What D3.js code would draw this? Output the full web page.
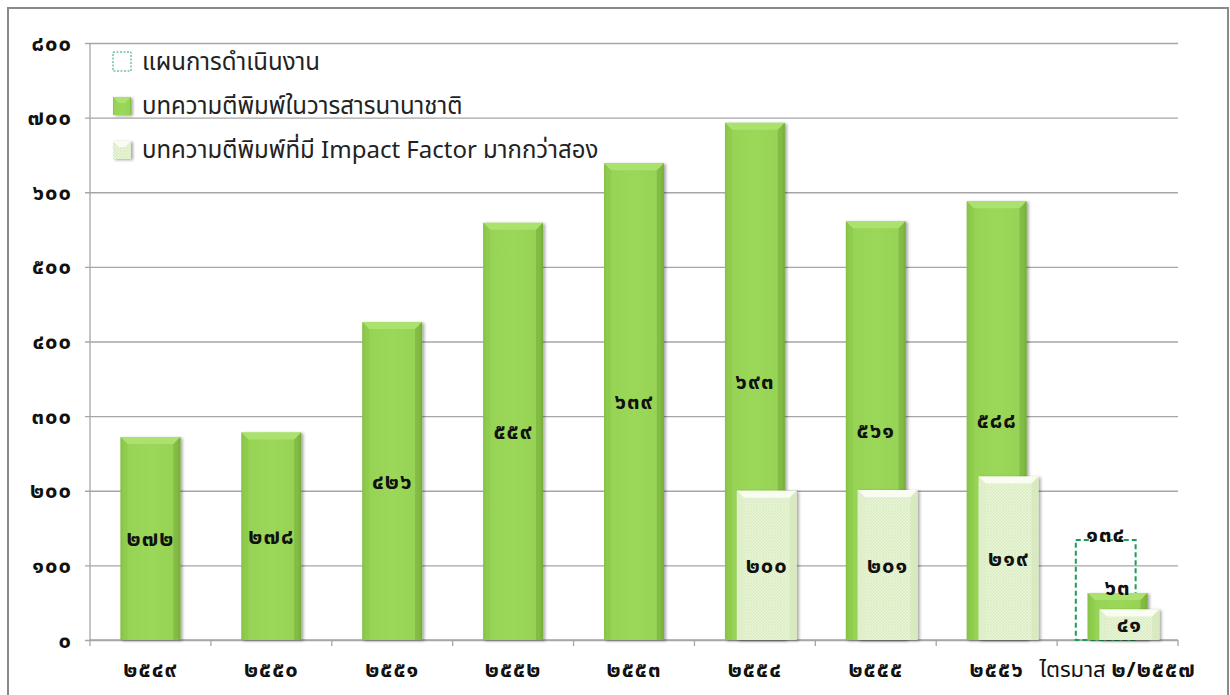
<!DOCTYPE html>
<html lang="th">
<head>
<meta charset="utf-8">
<script src="https://cdn.jsdelivr.net/npm/d3@7"></script>
<style>
  html, body { margin: 0; padding: 0; background: #fff; }
  svg { display: block; }
  .thai { font-family: "Noto Sans Thai", "Tahoma", "Loma", "Garuda", "Noto Sans", sans-serif; }
</style>
</head>
<body>
<svg id="chart" width="1230" height="695"></svg>
<script>
// Categories (Buddhist-era years) and series values
const categories = ["๒๕๔๙", "๒๕๕๐", "๒๕๕๑", "๒๕๕๒", "๒๕๕๓", "๒๕๕๔", "๒๕๕๕", "๒๕๕๖", "ไตรมาส ๒/๒๕๕๗"];
const planValues = [null, null, null, null, null, null, null, null, 134];
const intlJournalValues = [272, 278, 426, 559, 639, 693, 561, 588, 63];
const impactFactorValues = [null, null, null, null, null, 200, 201, 219, 41];
const yTicks = [0, 100, 200, 300, 400, 500, 600, 700, 800];
const seriesNames = ["แผนการดำเนินงาน", "บทความตีพิมพ์ในวารสารนานาชาติ", "บทความตีพิมพ์ที่มี Impact Factor มากกว่าสอง"];

const thaiDigits = "๐๑๒๓๔๕๖๗๘๙";
const toThai = n => String(n).replace(/[0-9]/g, d => thaiDigits[+d]);

const svg = d3.select("#chart");
const plot = { left: 90, right: 1178, top: 43, bottom: 640 };
const numFont = 22;

const x = d3.scaleBand().domain(categories).range([plot.left, plot.right]).padding(0);
const y = d3.scaleLinear().domain([0, 800]).range([plot.bottom, plot.top]);
const bw = x.bandwidth();
const barW = bw * 0.495;
const step = bw * 0.098;

// defs: gradients, dotted texture, shadow
const defs = svg.append("defs");
const gGreen = defs.append("linearGradient").attr("id", "gGreen").attr("x1", 0).attr("x2", 1).attr("y1", 0).attr("y2", 0);
[[0, "#80bb42"], [0.06, "#96d355"], [0.5, "#9bd85a"], [0.94, "#96d355"], [1, "#78b03a"]]
  .forEach(([o, c]) => gGreen.append("stop").attr("offset", o).attr("stop-color", c));
const pat = defs.append("pattern").attr("id", "dots").attr("width", 3).attr("height", 3).attr("patternUnits", "userSpaceOnUse");
pat.append("rect").attr("width", 3).attr("height", 3).attr("fill", "#e9f5d9");
pat.append("circle").attr("cx", 1).attr("cy", 1).attr("r", 0.7).attr("fill", "#c8e2a6");
pat.append("circle").attr("cx", 2.5).attr("cy", 2.5).attr("r", 0.5).attr("fill", "#d5e9bb");
const sh = defs.append("filter").attr("id", "shadow").attr("x", "-10%").attr("y", "-10%").attr("width", "130%").attr("height", "130%");
sh.append("feDropShadow").attr("dx", 2).attr("dy", 1).attr("stdDeviation", 1.4).attr("flood-color", "#000").attr("flood-opacity", 0.35);

// outer frame
svg.append("rect").attr("x", 8).attr("y", 8).attr("width", 1220).attr("height", 700)
  .attr("fill", "#fff").attr("stroke", "#8a8a8a").attr("stroke-width", 2);

// gridlines and y axis
const yAxis = d3.axisLeft(y).tickValues(yTicks).tickSize(-(plot.right - plot.left)).tickFormat(toThai).tickPadding(18);
const yg = svg.append("g").attr("transform", `translate(${plot.left},0)`).call(yAxis);
yg.select(".domain").remove();
yg.selectAll(".tick line").attr("stroke", "#a6a6a6").attr("stroke-width", 1.3).attr("x1", -5);
yg.selectAll(".tick text").attr("class", "thai").attr("font-size", numFont).attr("font-weight", "bold")
  .attr("letter-spacing", 1).attr("fill", "#111");
svg.append("line").attr("x1", plot.left).attr("x2", plot.left).attr("y1", plot.top).attr("y2", plot.bottom)
  .attr("stroke", "#a6a6a6").attr("stroke-width", 1.3);

// x axis with category-boundary ticks
const xg = svg.append("g").attr("transform", `translate(0,${plot.bottom})`);
xg.append("line").attr("x1", plot.left).attr("x2", plot.right).attr("stroke", "#a6a6a6").attr("stroke-width", 1.3);
const bounds = categories.map(c => x(c)).concat([plot.right]);
xg.selectAll("line.bt").data(bounds).join("line").attr("class", "bt")
  .attr("x1", d => d).attr("x2", d => d).attr("y1", 0).attr("y2", 6).attr("stroke", "#a6a6a6").attr("stroke-width", 1.3);
const xt = xg.selectAll("text").data(categories).join("text").attr("class", "thai")
  .attr("x", d => x(d) + bw / 2).attr("y", 29).attr("dy", "0.35em").attr("text-anchor", "middle")
  .attr("fill", "#111").attr("font-size", numFont);
// digits bold, Thai words regular weight
xt.each(function (d) {
  const t = d3.select(this);
  d.split(/([๐-๙/]+)/).filter(p => p.length).forEach(p => {
    const isNum = /^[๐-๙/]+$/.test(p);
    t.append("tspan").attr("font-weight", isNum ? "bold" : "normal")
      .attr("letter-spacing", isNum ? 1 : 0).attr("font-size", isNum ? numFont : 22).text(p);
  });
});

// bar drawing helpers
function bevelBar(g, x0, w, v, kind) {
  const top = y(v), h = plot.bottom - top;
  const grp = g.append("g").attr("filter", "url(#shadow)");
  grp.append("rect").attr("x", x0).attr("y", top).attr("width", w).attr("height", h)
    .attr("fill", kind === "green" ? "url(#gGreen)" : "url(#dots)");
  const b = Math.min(7, h / 2);
  grp.append("path")
    .attr("d", `M${x0},${top} L${x0 + w},${top} L${x0 + w - b},${top + b} L${x0 + b},${top + b} Z`)
    .attr("fill", kind === "green" ? "#abe26e" : "#f8fcf1");
  grp.append("path")
    .attr("d", `M${x0},${top} L${x0 + b},${top + b} L${x0 + b},${top + h} L${x0},${top + h} Z`)
    .attr("fill", kind === "green" ? "#88c648" : "#dcedc6").attr("opacity", 0.55);
  grp.append("path")
    .attr("d", `M${x0 + w},${top} L${x0 + w - b},${top + b} L${x0 + w - b},${top + h} L${x0 + w},${top + h} Z`)
    .attr("fill", kind === "green" ? "#73aa37" : "#cfe4b4").attr("opacity", 0.55);
}

const bars = svg.append("g");
const labels = svg.append("g").attr("class", "thai").attr("font-size", numFont).attr("font-weight", "bold")
  .attr("letter-spacing", 1).attr("fill", "#111").attr("text-anchor", "middle");

const series = [
  { values: planValues, offset: -1, kind: "plan" },
  { values: intlJournalValues, offset: 0, kind: "green" },
  { values: impactFactorValues, offset: 1, kind: "light" }
];

series.forEach(s => {
  s.values.forEach((v, i) => {
    if (v == null) return;
    const cx = x(categories[i]) + bw / 2 + s.offset * step;
    const x0 = cx - barW / 2;
    if (s.kind === "plan") {
      bars.append("rect").attr("x", x0).attr("y", y(v)).attr("width", barW).attr("height", plot.bottom - y(v))
        .attr("fill", "none").attr("stroke", "#1f9a5a").attr("stroke-width", 2).attr("stroke-dasharray", "5,3");
    } else {
      bevelBar(bars, x0, barW, v, s.kind);
    }
  });
});

// value labels: centred in bar, or sitting on the top edge for short bars and the plan outline
series.forEach(s => {
  s.values.forEach((v, i) => {
    if (v == null) return;
    const cx = x(categories[i]) + bw / 2 + s.offset * step;
    const outside = s.kind === "plan" || (s.kind === "green" && v < 100);
    const ly = outside ? y(v) - 6 : (y(v) + plot.bottom) / 2;
    labels.append("text").attr("x", cx).attr("y", ly).attr("dy", "0.35em").text(toThai(v));
  });
});

// legend
const legend = svg.append("g").attr("class", "thai");
const legendY = [62, 106, 150];
seriesNames.forEach((name, i) => {
  const gy = legendY[i];
  if (i === 0) {
    legend.append("rect").attr("x", 113).attr("y", gy - 10).attr("width", 18).attr("height", 19)
      .attr("fill", "#fff").attr("stroke", "#2aa070").attr("stroke-width", 1).attr("stroke-dasharray", "2,1.5");
  } else {
    const lg = legend.append("g").attr("filter", "url(#shadow)");
    lg.append("rect").attr("x", 113).attr("y", gy - 9).attr("width", 18).attr("height", 18)
      .attr("fill", i === 1 ? "url(#gGreen)" : "url(#dots)");
    lg.append("path").attr("d", `M113,${gy - 9} L131,${gy - 9} L125,${gy - 3} L119,${gy - 3} Z`)
      .attr("fill", i === 1 ? "#abe26e" : "#f8fcf1");
  }
  legend.append("text").attr("x", 142).attr("y", gy).attr("dy", "0.35em")
    .attr("font-size", 24).attr("fill", "#222").text(name);
});
</script>
</body>
</html>
